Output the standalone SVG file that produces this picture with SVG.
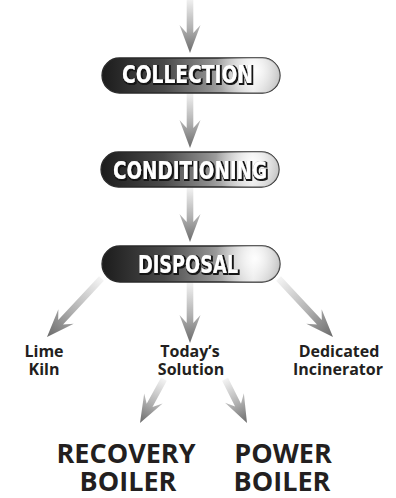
<svg xmlns="http://www.w3.org/2000/svg" width="396" height="498" viewBox="0 0 396 498">
<style>
.pill{stroke:#2a2a2a;stroke-width:1.3}
.pt{font-family:"DejaVu Sans","Open Sans",sans-serif;font-stretch:condensed;font-weight:bold;font-size:24px;text-anchor:middle;fill:#ffffff;filter:url(#sh)}
.lbl{font-family:"Open Sans","DejaVu Sans",sans-serif;font-weight:bold;font-size:16px;fill:#231f20;text-anchor:middle}
.big{font-family:"Open Sans","DejaVu Sans",sans-serif;font-weight:bold;font-size:27px;fill:#231f20;text-anchor:middle}
.arr{fill:url(#ag)}
</style>
<defs>
<filter id="sh" x="-10%" y="-30%" width="120%" height="160%">
<feFlood flood-color="#141414"/>
<feComposite in2="SourceAlpha" operator="in"/>
<feMorphology operator="dilate" radius="0.6"/>
<feOffset dx="1.4" dy="1.4" result="s"/>
<feMerge><feMergeNode in="s"/><feMergeNode in="SourceGraphic"/></feMerge>
</filter>
<linearGradient id="ag" x1="0" y1="0" x2="0" y2="1">
<stop offset="0" stop-color="#f4f4f4"/>
<stop offset="0.55" stop-color="#b0b0b0"/>
<stop offset="1" stop-color="#6a6a6a"/>
</linearGradient>
<linearGradient id="pg" x1="0" y1="0" x2="1" y2="0">
<stop offset="0" stop-color="#1c1c1c"/>
<stop offset="0.35" stop-color="#4a4a4a"/>
<stop offset="0.6" stop-color="#8c8c8c"/>
<stop offset="0.85" stop-color="#e2e2e2"/>
<stop offset="1" stop-color="#a8a8a8"/>
</linearGradient>
<radialGradient id="ph" cx="0.86" cy="0.35" r="0.22" gradientTransform="translate(0.86 0.35) scale(1 5) translate(-0.86 -0.35)">
<stop offset="0" stop-color="#ffffff" stop-opacity="0.95"/>
<stop offset="1" stop-color="#ffffff" stop-opacity="0"/>
</radialGradient>
</defs>
<g id="connectors">
<path class="arr" transform="translate(190 53)" d="M0,0 L-10.5,-28 L-3.3,-20 L-3.3,-55 L3.3,-55 L3.3,-20 L10.5,-28 Z"/>
<path class="arr" transform="translate(190 148)" d="M0,0 L-10.5,-28 L-3.3,-20 L-3.3,-56 L3.3,-56 L3.3,-20 L10.5,-28 Z"/>
<path class="arr" transform="translate(190 242)" d="M0,0 L-10.5,-28 L-3.3,-20 L-3.3,-55 L3.3,-55 L3.3,-20 L10.5,-28 Z"/>
<path class="arr" transform="translate(190 343)" d="M0,0 L-10.5,-28 L-3.3,-20 L-3.3,-61 L3.3,-61 L3.3,-20 L10.5,-28 Z"/>
<path class="arr" transform="translate(47 337) rotate(42.9)" d="M0,0 L-10.5,-28 L-3.3,-20 L-3.3,-80 L3.3,-80 L3.3,-20 L10.5,-28 Z"/>
<path class="arr" transform="translate(333 337) rotate(-42.9)" d="M0,0 L-10.5,-28 L-3.3,-20 L-3.3,-80 L3.3,-80 L3.3,-20 L10.5,-28 Z"/>
<path class="arr" transform="translate(140 423) rotate(28.6)" d="M0,0 L-10.5,-28 L-3.3,-20 L-3.3,-50 L3.3,-50 L3.3,-20 L10.5,-28 Z"/>
<path class="arr" transform="translate(247 423) rotate(-26.6)" d="M0,0 L-10.5,-28 L-3.3,-20 L-3.3,-49 L3.3,-49 L3.3,-20 L10.5,-28 Z"/>
</g>
<g id="collection">
<rect class="pill" x="102" y="58" width="178" height="35" rx="17.5" fill="url(#pg)"/>
<rect x="102" y="58" width="178" height="35" rx="17.5" fill="url(#ph)"/>
<text class="pt" x="187.5" y="82.5" textLength="131" lengthAdjust="spacingAndGlyphs">COLLECTION</text>
</g>
<g id="conditioning">
<rect class="pill" x="101" y="152" width="178" height="35" rx="17.5" fill="url(#pg)"/>
<rect x="101" y="152" width="178" height="35" rx="17.5" fill="url(#ph)"/>
<text class="pt" x="190" y="178.5" textLength="154" lengthAdjust="spacingAndGlyphs">CONDITIONING</text>
</g>
<g id="disposal">
<rect class="pill" x="102" y="246" width="178" height="36" rx="18" fill="url(#pg)"/>
<rect x="102" y="246" width="178" height="36" rx="18" fill="url(#ph)"/>
<text class="pt" x="188" y="272.5" textLength="100" lengthAdjust="spacingAndGlyphs">DISPOSAL</text>
</g>
<g id="lime-kiln">
<text class="lbl"><tspan x="44" y="357">Lime</tspan><tspan x="44" y="374.5">Kiln</tspan></text>
</g>
<g id="todays-solution">
<text class="lbl"><tspan x="190" y="357">Today’s</tspan><tspan x="191" y="374.5">Solution</tspan></text>
</g>
<g id="dedicated-incinerator">
<text class="lbl"><tspan x="339" y="357">Dedicated</tspan><tspan x="338" y="374.5">Incinerator</tspan></text>
</g>
<g id="recovery-boiler">
<text class="big"><tspan x="126" y="462.5">RECOVERY</tspan><tspan x="128" y="490.5">BOILER</tspan></text>
</g>
<g id="power-boiler">
<text class="big"><tspan x="283" y="462.5">POWER</tspan><tspan x="282" y="490.5">BOILER</tspan></text>
</g>
</svg>
